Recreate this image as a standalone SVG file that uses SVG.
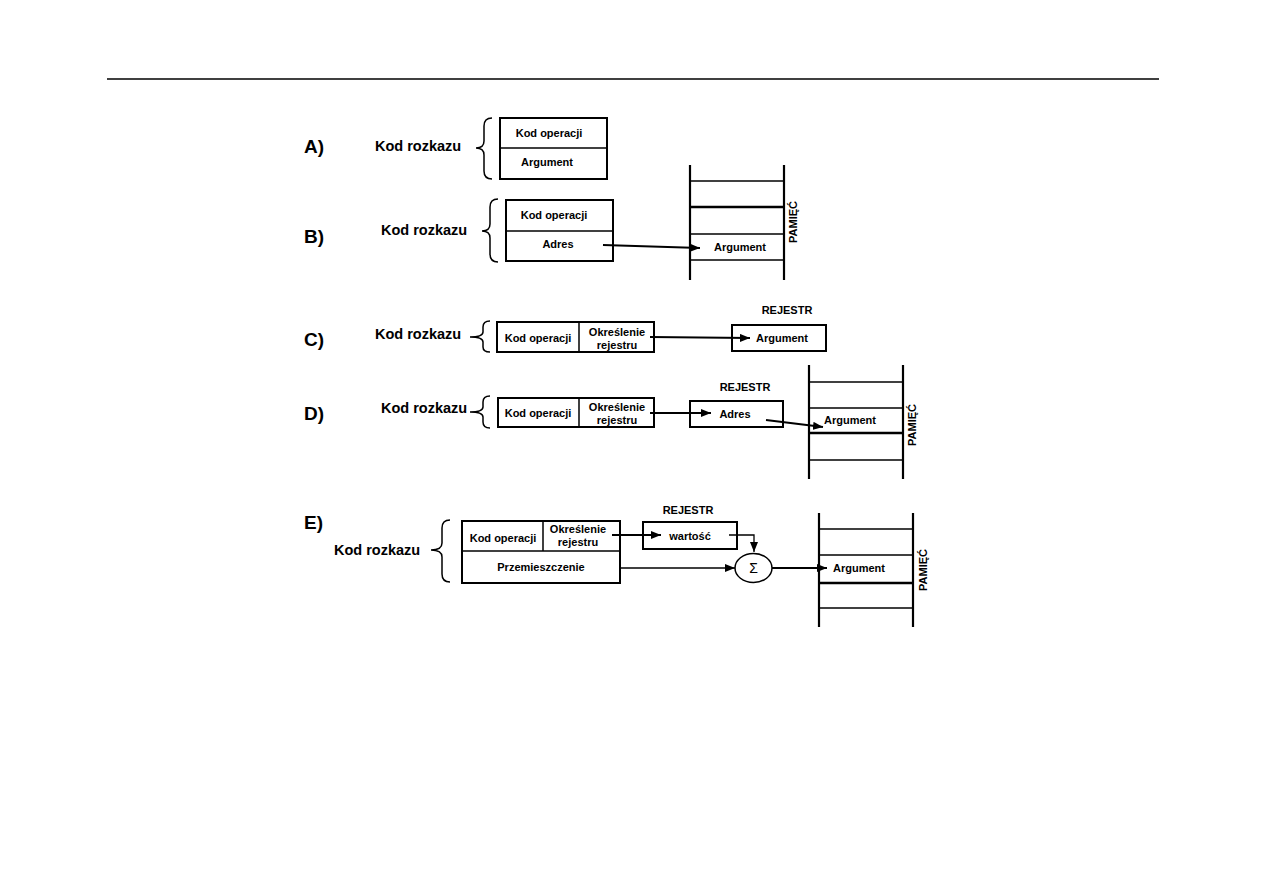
<svg xmlns="http://www.w3.org/2000/svg" width="1263" height="893" viewBox="0 0 1263 893">
<defs>
<marker id="ah" viewBox="0 0 10 8" refX="10" refY="4" markerWidth="10" markerHeight="8" markerUnits="userSpaceOnUse" orient="auto">
<path d="M0,0 L10,4 L0,8 Z" fill="#000"/>
</marker>
</defs>
<style>
text{font-family:"Liberation Sans",Arial,sans-serif;fill:#000}
.lab{font-size:19px;font-weight:bold}
.kr{font-size:14.5px;font-weight:bold}
.t{font-size:11px;font-weight:bold;text-anchor:middle}
.box{fill:#fff;stroke:#000;stroke-width:2}
.ln{stroke:#000;stroke-width:1.3;fill:none}
.thin{stroke:#000;stroke-width:1.5;fill:none}
.brace{stroke:#000;stroke-width:1.5;fill:none}
.mv{stroke:#000;stroke-width:2.2}
.mh{stroke:#000;stroke-width:1.5}
.mt{stroke:#000;stroke-width:2.5}
.con{stroke:#000;stroke-width:1.8;fill:none;marker-end:url(#ah)}
</style>
<rect width="1263" height="893" fill="#fff"/>
<line x1="107" y1="79" x2="1159" y2="79" stroke="#000" stroke-width="1.3"/>

<g id="A">
<text class="lab" x="304" y="153">A)</text>
<text class="kr" x="375" y="151">Kod rozkazu</text>
<path class="brace" d="M492,118 Q484,118 484,126 L484,141 Q484,148 476,148 Q484,148 484,155 L484,171 Q484,179 492,179"/>
<rect class="box" x="500" y="118" width="107" height="61"/>
<line class="thin" x1="500" y1="148" x2="607" y2="148"/>
<text class="t" x="549" y="137">Kod operacji</text>
<text class="t" x="547" y="166">Argument</text>
</g>

<g id="B">
<text class="lab" x="304" y="243">B)</text>
<text class="kr" x="381" y="235">Kod rozkazu</text>
<path class="brace" d="M498,199 Q490,199 490,207 L490,224 Q490,231 482,231 Q490,231 490,238 L490,254 Q490,262 498,262"/>
<rect class="box" x="506" y="200" width="107" height="61"/>
<line class="thin" x1="506" y1="231" x2="613" y2="231"/>
<text class="t" x="554" y="219">Kod operacji</text>
<text class="t" x="558" y="248">Adres</text>
</g>

<g id="memB">
<line class="mv" x1="690" y1="165" x2="690" y2="280"/>
<line class="mv" x1="784" y1="165" x2="784" y2="280"/>
<line class="mh" x1="690" y1="181" x2="784" y2="181"/>
<line class="mt" x1="690" y1="207" x2="784" y2="207"/>
<line class="mh" x1="690" y1="234" x2="784" y2="234"/>
<line class="mh" x1="690" y1="260" x2="784" y2="260"/>
<text class="t" x="740" y="251">Argument</text>
<text class="t" transform="translate(797,222) rotate(-90)">PAMIĘĆ</text>
</g>

<g id="C">
<text class="lab" x="304" y="346">C)</text>
<text class="kr" x="375" y="339">Kod rozkazu</text>
<path class="brace" d="M490,321 Q483,321 483,327 L483,332 Q483,337 470,337 Q483,337 483,342 L483,347 Q483,352 490,352"/>
<rect class="box" x="497" y="322" width="157" height="30"/>
<line class="thin" x1="579" y1="322" x2="579" y2="352"/>
<text class="t" x="538" y="342">Kod operacji</text>
<text class="t" x="617" y="336">Określenie</text>
<text class="t" x="617" y="349">rejestru</text>
</g>

<g id="regC">
<text class="t" x="787" y="314">REJESTR</text>
<rect class="box" x="732" y="325" width="94" height="26"/>
<text class="t" x="782" y="342">Argument</text>
</g>

<g id="D">
<text class="lab" x="304" y="420">D)</text>
<text class="kr" x="381" y="413">Kod rozkazu</text>
<path class="brace" d="M490,396 Q483,396 483,402 L483,407 Q483,412 470,412 Q483,412 483,417 L483,422 Q483,428 490,428"/>
<rect class="box" x="498" y="398" width="156" height="29"/>
<line class="thin" x1="579" y1="398" x2="579" y2="427"/>
<text class="t" x="538" y="417">Kod operacji</text>
<text class="t" x="617" y="411">Określenie</text>
<text class="t" x="617" y="424">rejestru</text>
</g>

<g id="regD">
<text class="t" x="745" y="391">REJESTR</text>
<rect class="box" x="690" y="401" width="93" height="26"/>
<text class="t" x="735" y="418">Adres</text>
</g>

<g id="memD">
<line class="mv" x1="809" y1="365" x2="809" y2="479"/>
<line class="mv" x1="903" y1="365" x2="903" y2="479"/>
<line class="mh" x1="809" y1="382" x2="903" y2="382"/>
<line class="mh" x1="809" y1="408" x2="903" y2="408"/>
<line class="mt" x1="809" y1="433" x2="903" y2="433"/>
<line class="mh" x1="809" y1="460" x2="903" y2="460"/>
<text class="t" x="850" y="424">Argument</text>
<text class="t" transform="translate(916,425) rotate(-90)">PAMIĘĆ</text>
</g>

<g id="E">
<text class="lab" x="304" y="529">E)</text>
<text class="kr" x="334" y="555">Kod rozkazu</text>
<path class="brace" d="M450,520 Q442,520 442,528 L442,543 Q442,550 431,550 Q442,550 442,557 L442,574 Q442,582 450,582"/>
<rect class="box" x="462" y="521" width="158" height="62"/>
<line class="thin" x1="462" y1="551" x2="620" y2="551"/>
<line class="thin" x1="543" y1="521" x2="543" y2="551"/>
<text class="t" x="503" y="542">Kod operacji</text>
<text class="t" x="578" y="533">Określenie</text>
<text class="t" x="578" y="546">rejestru</text>
<text class="t" x="541" y="571">Przemieszczenie</text>
</g>

<g id="regE">
<text class="t" x="688" y="514">REJESTR</text>
<rect class="box" x="643" y="522" width="94" height="27"/>
<text class="t" x="690" y="540">wartość</text>
</g>

<g id="sum">
<ellipse cx="753.5" cy="568" rx="18.5" ry="14.5" fill="#fff" stroke="#000" stroke-width="1.5"/>
<text x="753.5" y="573" font-size="14" text-anchor="middle" font-family="'DejaVu Serif',serif">Σ</text>
</g>

<g id="memE">
<line class="mv" x1="819" y1="513" x2="819" y2="627"/>
<line class="mv" x1="913" y1="513" x2="913" y2="627"/>
<line class="mh" x1="819" y1="529" x2="913" y2="529"/>
<line class="mh" x1="819" y1="555" x2="913" y2="555"/>
<line class="mt" x1="819" y1="583" x2="913" y2="583"/>
<line class="mh" x1="819" y1="608" x2="913" y2="608"/>
<text class="t" x="859" y="572">Argument</text>
<text class="t" transform="translate(927,570) rotate(-90)">PAMIĘĆ</text>
</g>

<g id="connectors">
<path class="con" d="M603,245 L700,248"/>
<path class="con" d="M650,337 L750,338"/>
<path class="con" d="M650,413 L711,413"/>
<path class="con" d="M766,420 L823,427"/>
<path class="con" d="M612,535 L661,535"/>
<path class="ln" d="M729,535 L754,535 L754,552" style="marker-end:url(#ah)"/>
<path class="ln" d="M620,568 L735,568" style="marker-end:url(#ah)"/>
<path class="con" d="M772,568 L827,568"/>
</g>
</svg>
